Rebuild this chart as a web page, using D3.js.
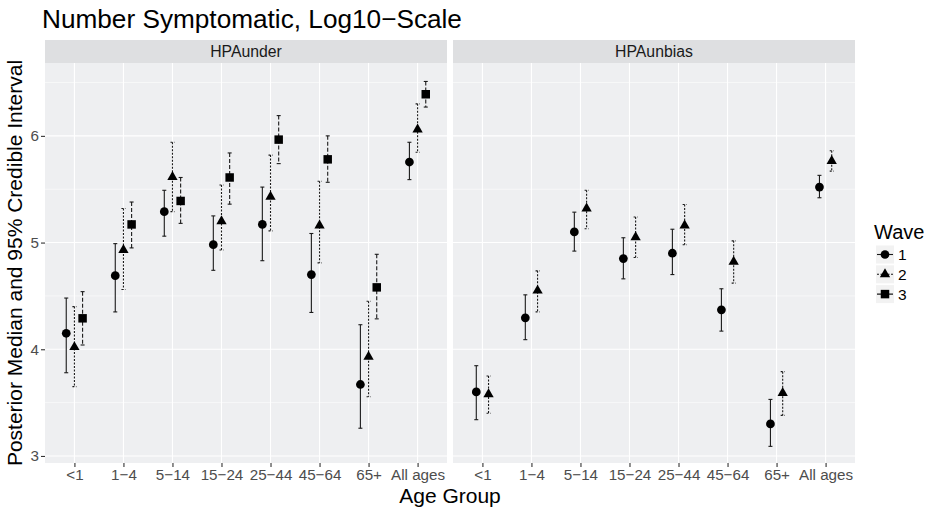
<!DOCTYPE html>
<html><head><meta charset="utf-8">
<script src="https://cdn.jsdelivr.net/npm/d3@7"></script>
<style>body{margin:0;background:#fff}svg{display:block}</style>
</head><body>
<script>
const categories = ["<1","1\u22124","5\u221214","15\u221224","25\u221244","45\u221264","65+","All ages"];
const panels = ["HPAunder","HPAunbias"];
const waves = ["1","2","3"];
const yTicks = [3,4,5,6];
const yMinor = [3.5,4.5,5.5,6.5];

const under_w1_med = [4.15, 4.69, 5.29, 4.98, 5.17, 4.70, 3.67, 5.755];
const under_w1_lo  = [3.78, 4.35, 5.06, 4.74, 4.83, 4.345, 3.26, 5.59];
const under_w1_hi  = [4.48, 4.99, 5.49, 5.25, 5.52, 5.085, 4.23, 5.94];
const under_w2_med = [4.02, 4.93, 5.615, 5.20, 5.43, 5.16, 3.93, 6.06];
const under_w2_lo  = [3.65, 4.56, 5.29, 4.93, 5.11, 4.81, 3.555, 5.846];
const under_w2_hi  = [4.40, 5.32, 5.94, 5.54, 5.82, 5.575, 4.45, 6.30];
const under_w3_med = [4.29, 5.17, 5.39, 5.61, 5.965, 5.78, 4.58, 6.39];
const under_w3_lo  = [4.04, 4.95, 5.18, 5.36, 5.74, 5.565, 4.285, 6.27];
const under_w3_hi  = [4.54, 5.38, 5.61, 5.84, 6.19, 6.00, 4.89, 6.51];

const unbias_w1_med = [3.60, 4.295, 5.10, 4.85, 4.90, 4.37, 3.30, 5.52];
const unbias_w1_lo  = [3.34, 4.09, 4.92, 4.66, 4.70, 4.17, 3.09, 5.42];
const unbias_w1_hi  = [3.846, 4.51, 5.285, 5.045, 5.125, 4.567, 3.53, 5.63];
const unbias_w2_med = [3.578, 4.55, 5.32, 5.05, 5.16, 4.82, 3.59, 5.765];
const unbias_w2_lo  = [3.40, 4.35, 5.13, 4.86, 4.98, 4.62, 3.38, 5.67];
const unbias_w2_hi  = [3.749, 4.735, 5.49, 5.24, 5.357, 5.016, 3.79, 5.86];

const series = {
  HPAunder: [
    {wave:"1", med:under_w1_med, lo:under_w1_lo, hi:under_w1_hi},
    {wave:"2", med:under_w2_med, lo:under_w2_lo, hi:under_w2_hi},
    {wave:"3", med:under_w3_med, lo:under_w3_lo, hi:under_w3_hi}
  ],
  HPAunbias: [
    {wave:"1", med:unbias_w1_med, lo:unbias_w1_lo, hi:unbias_w1_hi},
    {wave:"2", med:unbias_w2_med, lo:unbias_w2_lo, hi:unbias_w2_hi}
  ]
};

const W = 931, H = 510;
const FONT = "'Liberation Sans', Arial, Helvetica, sans-serif";
const svg = d3.select("body").append("svg").attr("width",W).attr("height",H)
  .style("font-family",FONT);

const panelX = [[45,447],[453,855]];
const stripTop = 40, stripH = 23, pTop = 63, pBot = 463;
const y = d3.scaleLinear().domain([2.934, 6.683]).range([pBot, pTop]);

const dash = {"1":null, "2":"2,1.5", "3":"4,2"};
const symType = {"1":d3.symbolCircle, "2":d3.symbolTriangle, "3":d3.symbolSquare};
const symSize = {"1":60, "2":46, "3":72};
const lineCol = "#1a1a1a";
const tickFont = 15.2;

panels.forEach((pname, pi) => {
  const [L,R] = panelX[pi];
  const x = d3.scalePoint().domain(categories).range([L,R]).padding(0.6);
  const step = x.step();
  const g = svg.append("g");
  // strip
  g.append("rect").attr("x",L).attr("y",stripTop).attr("width",R-L).attr("height",stripH).attr("fill","#dedfe1");
  g.append("text").attr("x",(L+R)/2).attr("y",stripTop+stripH/2+5.6).attr("text-anchor","middle")
    .attr("font-size",15.8).attr("fill","#1a1a1a").text(pname);
  // panel bg
  g.append("rect").attr("x",L).attr("y",pTop).attr("width",R-L).attr("height",pBot-pTop).attr("fill","#eeeff1");
  // grid
  g.selectAll(".ymin").data(yMinor).enter().append("line")
    .attr("x1",L).attr("x2",R).attr("y1",d=>y(d)).attr("y2",d=>y(d))
    .attr("stroke","#fff").attr("stroke-width",0.55);
  g.selectAll(".ymaj").data(yTicks).enter().append("line")
    .attr("x1",L).attr("x2",R).attr("y1",d=>y(d)).attr("y2",d=>y(d))
    .attr("stroke","#fff").attr("stroke-width",1.1);
  g.selectAll(".xmaj").data(categories).enter().append("line")
    .attr("x1",d=>x(d)).attr("x2",d=>x(d)).attr("y1",pTop).attr("y2",pBot)
    .attr("stroke","#fff").attr("stroke-width",1.1);
  // x axis
  const xa = svg.append("g").attr("transform",`translate(0,${pBot})`)
    .call(d3.axisBottom(x).tickSize(4).tickPadding(2));
  xa.select(".domain").remove();
  xa.selectAll(".tick line").attr("stroke","#333").attr("stroke-width",1.1);
  xa.selectAll(".tick text").attr("font-size",tickFont).attr("fill","#4d4d4d").attr("font-family",FONT);
  if (pi===0) {
    const ya = svg.append("g").attr("transform",`translate(${L},0)`)
      .call(d3.axisLeft(y).tickValues(yTicks).tickFormat(d3.format("d")).tickSize(4).tickPadding(2));
    ya.select(".domain").remove();
    ya.selectAll(".tick line").attr("stroke","#333").attr("stroke-width",1.1);
    ya.selectAll(".tick text").attr("font-size",tickFont).attr("fill","#4d4d4d").attr("font-family",FONT);
  }
  // data
  const sers = series[pname];
  const n = sers.length;
  sers.forEach((s, si) => {
    const off = (si - (n-1)/2) * (0.5/n) * step;
    const cap = 2;
    const sg = g.append("g");
    categories.forEach((c, ci) => {
      const cx = x(c) + off;
      const eb = sg.append("g").attr("stroke",lineCol).attr("stroke-width",1.1).attr("fill","none");
      const da = dash[s.wave];
      eb.append("line").attr("x1",cx).attr("x2",cx).attr("y1",y(s.hi[ci])).attr("y2",y(s.lo[ci]))
        .attr("stroke-dasharray",da);
      eb.append("line").attr("x1",cx-cap).attr("x2",cx+cap).attr("y1",y(s.hi[ci])).attr("y2",y(s.hi[ci]))
        .attr("stroke-dasharray",da);
      eb.append("line").attr("x1",cx-cap).attr("x2",cx+cap).attr("y1",y(s.lo[ci])).attr("y2",y(s.lo[ci]))
        .attr("stroke-dasharray",da);
    });
    sg.selectAll("path.pt").data(s.med).enter().append("path")
      .attr("transform",(d,i)=>`translate(${x(categories[i])+off},${y(d)})`)
      .attr("d", d3.symbol().type(symType[s.wave]).size(symSize[s.wave]))
      .attr("fill","#000");
  });
});

// titles
svg.append("text").attr("x",42).attr("y",28).attr("font-size",26.2).attr("fill","#000")
  .text("Number Symptomatic, Log10\u2212Scale");
svg.append("text").attr("x",(45+855)/2).attr("y",503).attr("text-anchor","middle")
  .attr("font-size",21).attr("fill","#000").text("Age Group");
svg.append("text").attr("transform",`translate(22,${(pTop+pBot)/2}) rotate(-90)`).attr("text-anchor","middle")
  .attr("font-size",21).attr("fill","#000").text("Posterior Median and 95% Credible Interval");

// legend
const lg = svg.append("g");
lg.append("text").attr("x",874).attr("y",239).attr("font-size",20).attr("fill","#000").text("Wave");
waves.forEach((w, i) => {
  const cy = 254.5 + i*19.8;
  lg.append("rect").attr("x",876).attr("y",cy-9).attr("width",18).attr("height",18).attr("fill","#f2f2f2");
  lg.append("line").attr("x1",877).attr("x2",893).attr("y1",cy).attr("y2",cy)
    .attr("stroke",lineCol).attr("stroke-width",1.1).attr("stroke-dasharray",dash[w]);
  lg.append("path").attr("transform",`translate(885,${cy})`)
    .attr("d", d3.symbol().type(symType[w]).size(symSize[w])).attr("fill","#000");
  lg.append("text").attr("x",898).attr("y",cy+5.5).attr("font-size",15.5).attr("fill","#000").text(w);
});
</script>
</body></html>
